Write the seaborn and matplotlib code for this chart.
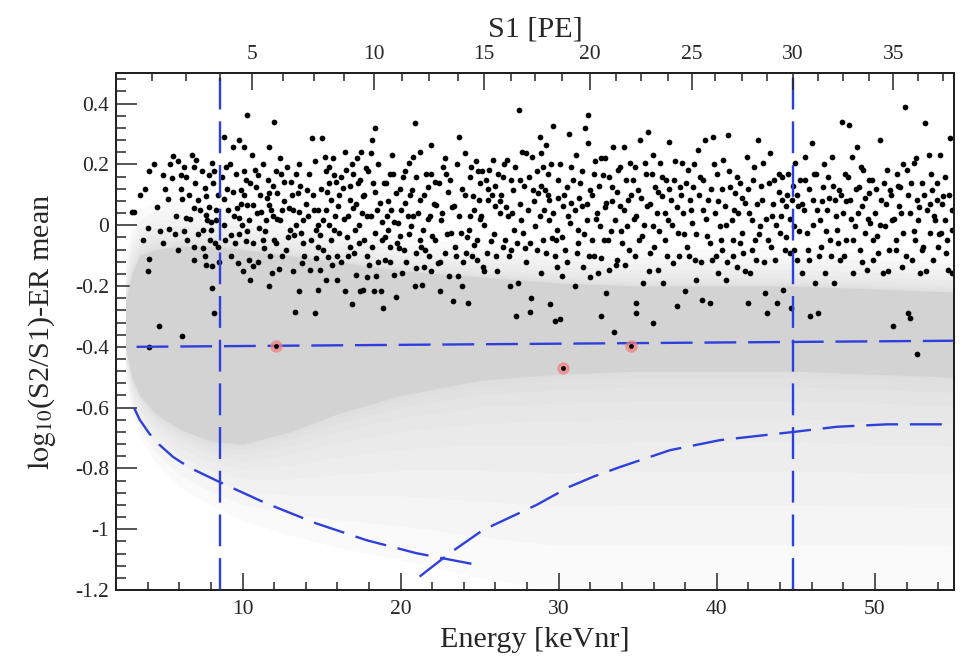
import numpy as np
import pandas as pd
import matplotlib
matplotlib.use('Agg')
import matplotlib.pyplot as plt
import seaborn as sns

# ER calibration events: (energy [keVnr], log10(S2/S1) - ER mean)
er_events = np.array([
    (3.0, 0.044), (3.16, 0.045), (3.86, 0.12), (4.0, -0.01), (4.1, 0.177), (4.1, -0.11), (4.0, -0.15),
    (4.7, -0.33), (6.2, -0.366), (4.1, -0.40),
    (4.95, 0.166), (5.27, 0.086), (5.37, -0.013), (5.6, 0.228), (5.55, 0.155), (5.7, -0.03), (5.9, 0.21),
    (6.1, 0.166), (6.18, 0.086), (6.3, -0.02), (6.4, 0.023), (6.4, 0.158),
    (6.8, 0.23), (6.96, 0.19), (7.06, 0.215), (6.9, 0.056), (6.96, -0.07), (6.96, -0.114), (7.17, 0.084),
    (7.5, -0.015), (7.53, -0.075), (7.65, 0.122), (7.7, 0.095), (7.7, 0.034), (7.74, 0.018), (7.7, -0.13),
    (7.86, 0.166), (8.0, 0.009), (8.0, -0.015), (8.1, 0.204), (8.1, -0.133), (8.16, 0.138), (8.1, -0.207),
    (8.2, -0.29), (8.25, -0.06), (8.22, 0.177),
    (8.43, 0.1), (8.33, 0.018), (8.43, -0.07), (8.8, 0.29), (8.8, 0.086), (8.86, 0.001), (8.96, 0.193),
    (9.07, 0.05), (9.28, -0.032), (9.38, 0.258), (9.38, 0.11), (9.5, -0.06), (9.64, 0.056), (9.7, -0.125),
    (9.8, 0.28), (9.8, 0.023), (9.9, 0.116), (9.97, 0.001), (10.1, 0.258), (10.1, 0.177), (10.2, 0.15),
    (10.2, -0.053), (10.27, 0.363), (10.3, 0.067), (10.4, -0.114), (10.44, 0.018), (10.48, -0.18),
    (10.65, 0.067), (10.65, -0.06), (10.65, -0.133), (10.8, 0.182), (10.86, 0.127), (10.97, 0.166),
    (11.03, -0.01), (11.18, 0.045), (11.28, -0.048), (11.39, -0.075), (11.5, 0.018), (11.6, 0.15),
    (11.7, 0.258), (11.7, 0.105), (11.7, 0.067), (11.75, -0.1), (11.8, 0.05), (11.87, -0.158), (11.9, 0.029),
    (12.0, 0.338), (12.1, 0.18), (12.1, -0.06), (12.2, 0.105), (12.3, -0.144), (12.34, 0.018), (12.44, 0.17),
    (12.5, 0.05),
    (12.65, 0.143), (12.76, -0.08), (12.97, 0.056), (13.0, -0.015), (13.07, 0.143), (13.18, 0.05),
    (13.28, -0.032), (13.35, -0.284), (13.4, 0.17), (13.5, 0.105), (13.6, -0.218), (13.6, 0.045),
    (13.7, -0.026), (13.77, -0.125), (13.8, 0.018), (13.9, -0.1), (14.07, 0.116), (14.13, 0.029),
    (14.24, -0.147), (14.4, 0.286), (14.5, 0.05), (14.6, -0.29), (14.66, -0.015), (14.66, -0.108),
    (14.77, 0.05), (14.77, -0.07), (14.8, -0.212), (14.87, -0.032), (14.9, -0.147), (15.04, 0.286),
    (15.1, 0.018), (15.2, 0.226), (15.25, -0.18), (15.3, 0.177), (15.33, 0.11), (15.4, -0.104), (15.5, 0.193),
    (15.5, 0.001), (15.6, 0.084), (15.67, -0.13), (15.76, -0.015), (15.8, 0.166), (15.9, 0.143), (15.97, -0.1),
    (16.03, 0.062), (16.13, -0.026), (16.24, 0.16), (16.35, 0.122), (16.45, -0.218), (16.55, 0.182),
    (16.66, -0.1), (16.77, 0.084), (16.7, 0.029), (16.77, -0.07), (16.94, -0.258),
    (17.0, 0.17), (17.0, 0.056), (17.1, -0.015), (17.15, -0.163), (17.23, 0.22), (17.3, 0.138), (17.36, -0.06),
    (17.4, -0.218), (17.5, 0.242), (17.57, 0.04), (17.6, 0.095), (17.65, -0.212), (17.7, -0.048), (17.8, 0.188),
    (17.86, -0.1), (17.9, 0.029), (18.0, -0.13), (18.1, 0.237), (18.2, 0.28), (18.24, 0.138), (18.3, -0.218),
    (18.35, -0.026), (18.4, 0.32), (18.45, -0.168), (18.5, 0.05), (18.67, 0.073), (18.77, -0.218),
    (18.84, -0.048),
    (18.9, -0.273), (18.98, -0.114), (19.1, 0.138), (19.13, 0.029), (19.2, -0.015), (19.3, 0.17), (19.34, -0.07),
    (19.4, 0.05), (19.47, 0.23), (19.55, -0.163), (19.68, -0.235), (19.72, 0.105), (19.83, 0.007),
    (19.9, -0.075), (19.93, -0.037), (20.1, -0.158), (20.14, 0.16), (20.25, 0.073), (20.35, -0.12),
    (20.46, 0.029), (20.56, 0.204), (20.67, -0.004), (20.73, 0.116), (20.77, 0.226), (20.88, 0.335),
    (20.88, -0.2), (20.95, -0.092),
    (21.1, 0.04), (21.2, 0.242), (21.24, 0.084), (21.3, -0.07), (21.37, -0.196), (21.4, -0.015), (21.5, -0.136),
    (21.6, 0.17), (21.7, 0.127), (21.8, -0.1), (21.83, 0.029), (21.93, 0.264), (22.0, -0.037), (22.15, 0.143),
    (22.25, 0.067), (22.36, -0.125), (22.47, -0.218), (22.57, 0.018), (22.67, 0.193), (22.78, -0.092),
    (22.9, 0.17), (23.0, 0.11), (23.05, -0.168),
    (23.2, -0.026), (23.3, -0.25), (23.4, 0.062), (23.5, -0.1), (23.6, -0.168), (23.7, 0.29), (23.8, -0.026),
    (23.9, -0.2), (24.05, 0.237), (24.15, -0.092), (24.26, -0.256), (24.3, -0.015), (24.36, 0.029),
    (24.47, 0.193), (24.57, 0.095), (24.67, -0.064), (24.8, -0.114), (24.9, 0.177), (24.95, 0.084),
    (25.04, 0.138), (25.1, 0.029), (25.2, -0.136),
    (25.3, -0.152), (25.4, 0.15), (25.5, 0.084), (25.6, 0.182), (25.7, -0.053), (25.85, 0.215), (25.95, 0.062),
    (26.05, -0.1), (26.15, 0.17), (26.26, 0.04), (26.37, 0.1), (26.47, 0.16), (26.58, -0.048), (26.7, 0.215),
    (26.8, 0.029), (26.9, -0.2), (27.0, -0.08), (27.1, 0.116), (27.2, -0.015), (27.3, -0.3), (27.4, -0.19),
    (27.5, 0.38), (27.57, 0.15), (27.63, 0.018), (27.7, 0.242), (27.74, -0.026), (27.85, -0.075),
    (27.95, 0.237), (28.05, 0.05), (28.16, -0.284), (28.27, -0.24), (28.33, 0.226), (28.37, 0.116),
    (28.5, -0.004),
    (28.8, 0.29), (28.9, 0.237), (29.0, 0.193), (29.2, 0.264), (29.3, 0.17), (28.7, 0.105), (28.8, 0.029),
    (29.0, -0.048), (28.9, -0.157), (29.1, 0.116), (29.4, 0.084), (29.4, 0.018), (29.55, -0.042),
    (29.65, 0.325), (29.45, -0.26), (29.76, -0.316), (29.76, -0.1), (29.87, -0.015), (29.87, -0.136),
    (29.97, 0.15), (30.1, -0.31), (30.18, -0.168), (30.3, 0.062), (30.4, -0.08), (30.5, 0.127), (30.67, 0.3),
    (30.7, 0.007),
    (30.8, 0.073), (30.9, 0.15), (31.0, -0.2), (31.1, 0.232), (31.13, -0.092), (31.24, -0.015), (31.35, 0.138),
    (31.45, 0.062), (31.55, -0.136), (31.66, 0.32), (31.76, 0.018), (31.87, 0.363), (31.87, 0.27),
    (31.93, -0.1), (31.98, 0.116), (32.08, -0.048), (32.2, 0.17), (32.3, 0.21), (32.4, 0.04), (32.5, -0.158),
    (32.6, -0.004), (32.7, -0.3), (32.7, -0.108), (32.8, 0.166),
    (32.9, 0.22), (33.0, -0.223), (33.0, 0.073), (33.1, -0.048), (33.2, -0.147), (33.35, 0.127), (33.45, 0.258),
    (33.5, -0.35), (33.55, 0.018), (33.66, -0.114), (33.77, 0.182), (33.87, 0.062), (33.98, -0.06),
    (34.1, 0.258), (34.2, -0.13), (34.3, -0.004), (34.4, 0.084), (34.5, 0.204), (34.7, 0.15), (34.8, -0.1),
    (34.9, -0.256), (34.9, -0.29), (34.9, 0.029),
    (35.0, 0.116), (35.15, 0.28), (35.25, -0.037), (35.35, -0.19), (35.45, 0.204), (35.56, 0.062),
    (35.67, 0.308), (35.77, -0.092), (35.88, 0.17), (35.94, -0.322), (35.98, -0.004), (36.1, 0.127),
    (36.2, 0.04), (36.3, -0.147), (36.4, 0.204), (36.5, 0.095), (36.6, -0.19), (36.7, -0.048), (36.8, 0.15),
    (36.93, 0.018), (37.0, 0.275),
    (37.1, 0.084), (37.25, -0.125), (37.35, 0.21), (37.46, -0.267), (37.57, -0.026), (37.67, 0.127),
    (37.78, 0.204), (37.88, 0.04), (37.99, -0.218), (38.1, -0.07), (38.2, 0.182), (38.3, 0.084), (38.4, 0.007),
    (38.5, 0.127), (38.6, -0.114), (38.7, -0.18), (38.8, 0.248), (38.94, 0.16), (39.04, -0.245), (39.1, 0.05),
    (39.25, 0.28), (39.36, -0.037), (39.46, 0.084), (39.57, -0.256), (39.67, -0.114), (39.78, 0.29),
    (39.9, 0.04), (40.0, 0.17), (40.1, -0.158), (40.2, -0.004), (40.3, -0.08), (40.4, 0.215), (40.5, 0.062),
    (40.6, -0.18), (40.7, 0.297), (40.85, 0.127), (40.95, 0.018), (41.05, -0.048), (41.15, 0.105),
    (41.26, -0.136),
    (41.36, 0.04), (41.47, 0.138), (41.57, -0.026), (41.68, -0.092), (41.8, 0.073), (41.9, 0.226),
    (42.0, -0.256), (42.1, -0.158), (42.2, 0.018), (42.3, 0.15), (42.4, -0.048), (42.5, -0.114), (42.63, 0.28),
    (42.73, -0.004), (42.84, 0.084), (42.95, 0.204), (43.05, -0.223), (43.15, -0.29), (43.26, -0.048),
    (43.37, 0.237),
    (43.5, 0.029), (43.6, 0.15), (43.7, -0.114), (43.8, -0.256), (43.9, 0.17), (44.0, -0.026), (44.1, 0.084),
    (44.2, -0.212), (44.3, -0.08), (44.4, 0.062), (44.5, 0.17), (44.6, -0.092), (44.68, -0.273),
    (44.74, 0.084), (44.85, -0.004), (44.95, 0.204), (45.05, -0.114), (45.16, 0.062), (45.27, 0.15),
    (45.37, -0.158), (45.5, 0.05),
    (45.6, 0.226), (45.7, -0.026), (45.8, -0.114), (45.9, -0.3), (46.0, 0.27), (46.1, 0.084), (46.2, -0.19),
    (46.3, 0.17), (46.4, -0.29), (46.5, 0.018), (46.6, -0.07), (46.7, 0.127), (46.85, -0.158), (46.95, 0.05),
    (47.06, 0.16), (47.17, -0.048), (47.27, 0.226), (47.4, -0.19), (47.5, 0.084), (47.6, -0.015),
    (47.7, 0.116), (47.8, -0.114), (47.9, 0.34), (48.0, 0.04), (48.1, 0.17), (48.2, -0.048), (48.33, 0.33),
    (48.43, 0.084), (48.54, 0.226), (48.64, -0.158), (48.75, -0.004), (48.85, 0.258), (48.96, 0.127),
    (49.06, -0.08), (49.17, 0.062), (49.27, 0.182), (49.38, -0.026), (49.5, -0.147), (49.6, 0.105),
    (49.7, 0.007),
    (49.8, 0.15), (49.9, -0.114), (50.0, 0.04), (50.1, -0.037), (50.3, 0.28), (50.4, 0.084), (50.5, -0.158),
    (50.65, -0.004), (50.75, 0.182), (50.86, -0.08), (50.96, 0.116), (51.07, 0.018), (51.17, -0.333),
    (51.3, -0.048), (51.4, 0.17), (51.5, 0.062), (51.6, 0.127), (51.7, -0.136), (51.8, -0.026),
    (51.9, 0.39), (52.0, 0.182), (52.1, -0.29), (52.2, -0.305), (52.23, 0.04), (52.33, -0.114), (52.44, 0.204),
    (52.55, -0.048), (52.65, 0.084), (52.67, -0.424), (52.75, 0.018), (52.86, -0.158), (52.97, 0.138),
    (53.07, -0.07), (53.17, 0.335), (53.28, 0.05), (53.4, 0.232), (53.5, -0.026), (53.6, 0.116),
    (53.7, -0.114), (53.8, 0.018), (53.9, 0.084), (54.0, -0.07), (54.1, 0.232), (54.2, -0.026), (54.3, 0.095),
    (54.4, 0.018), (54.5, -0.092), (54.6, -0.147), (54.75, 0.286), (54.86, -0.015), (54.86, -0.158),
])

# more ER events in the crowded core of the band
er_events_core = np.array([
    (3.5, 0.1), (3.7, -0.05),
    (4.4, 0.2), (4.6, 0.06), (4.8, -0.02), (5.0, -0.06), (5.1, 0.12), (5.4, 0.2), (5.8, 0.03), (5.9, -0.08),
    (6.1, 0.12), (6.3, 0.19), (6.5, -0.05), (6.6, 0.1), (6.7, 0.02), (7.0, 0.14), (7.2, -0.03), (7.3, 0.05),
    (7.45, 0.18), (7.6, -0.1), (7.9, 0.06), (7.95, -0.05),
    (8.3, 0.05), (8.5, -0.12), (8.7, 0.16), (8.9, -0.05), (9.0, 0.12), (9.2, 0.2), (9.3, -0.1), (9.45, 0.03),
    (9.6, 0.17), (9.75, -0.03), (9.9, 0.07), (10.0, -0.15),
    (10.1, 0.1), (10.3, -0.02), (10.5, 0.14), (10.6, 0.23), (10.9, 0.04), (11.0, -0.12), (11.1, 0.1),
    (11.3, 0.2), (11.4, -0.02), (11.55, 0.09), (11.65, -0.2), (11.9, 0.13), (12.0, -0.05),
    (12.2, 0.02), (12.35, 0.22), (12.5, -0.1), (12.6, 0.08), (12.8, 0.19), (12.9, -0.04), (13.1, 0.1),
    (13.2, -0.15), (13.4, 0.0), (13.55, 0.2), (13.65, 0.13), (13.85, -0.06), (14.0, 0.07),
    (14.2, 0.17), (14.35, -0.05), (14.45, 0.1), (14.6, 0.21), (14.8, 0.0), (14.95, 0.12), (15.1, -0.08),
    (15.3, 0.05), (15.45, 0.14), (15.6, -0.05), (15.75, 0.22), (15.85, 0.03), (15.95, -0.18),
    (16.1, 0.1), (16.2, -0.12), (16.4, 0.02), (16.5, 0.24), (16.6, -0.04), (16.8, 0.13), (16.9, 0.2),
    (17.05, -0.09), (17.2, 0.07), (17.35, 0.0), (17.45, 0.15), (17.7, 0.1), (17.85, -0.17), (17.95, 0.18),
    (18.1, 0.03), (18.2, -0.07), (18.4, 0.11), (18.55, -0.12), (18.6, 0.2), (18.8, 0.01), (18.95, 0.14),
    (19.0, -0.04), (19.2, 0.08), (19.35, -0.12), (19.5, 0.17), (19.6, 0.01), (19.8, -0.06), (19.95, 0.12),
    (20.05, 0.05), (20.2, -0.08), (20.3, 0.18), (20.5, -0.03), (20.6, 0.1), (20.8, 0.03), (20.95, -0.14),
    (21.0, 0.16), (21.2, -0.05), (21.45, 0.1), (21.55, -0.08), (21.7, 0.02), (21.9, 0.17), (21.95, -0.15),
    (22.1, 0.07), (22.2, -0.05), (22.4, 0.14), (22.5, -0.12), (22.6, 0.04), (22.8, 0.22), (22.95, -0.03),
    (23.1, 0.15), (23.25, 0.06), (23.45, -0.07), (23.55, 0.2), (23.7, 0.03), (23.85, 0.12), (23.95, -0.12),
    (24.1, 0.1), (24.2, -0.04), (24.4, 0.16), (24.5, -0.1), (24.65, 0.05), (24.75, 0.21), (24.85, -0.05),
    (25.0, 0.02), (25.15, 0.18), (25.3, 0.0), (25.45, -0.09), (25.55, 0.12), (25.8, 0.1), (25.9, -0.03),
    (26.0, 0.13), (26.1, -0.15), (26.3, 0.08), (26.45, -0.07), (26.55, 0.2), (26.65, 0.06), (26.85, -0.1),
    (26.95, 0.15), (27.05, 0.04), (27.25, 0.19), (27.35, -0.06), (27.55, 0.07), (27.8, 0.13), (27.9, -0.12),
    (28.1, 0.16), (28.2, -0.06), (28.45, 0.08), (28.6, 0.18), (28.65, -0.08), (28.85, 0.13), (29.05, 0.05),
    (29.2, -0.09), (29.3, 0.1), (29.5, 0.2), (29.65, 0.04), (29.8, -0.05), (29.95, 0.09),
    (30.05, 0.2), (30.2, -0.04), (30.35, 0.1), (30.55, -0.12), (30.6, 0.03), (30.8, 0.19), (31.0, 0.05),
    (31.2, -0.06), (31.3, 0.09), (31.5, 0.18), (31.6, -0.03), (31.8, 0.07), (31.95, -0.17),
    (32.1, 0.1), (32.25, -0.1), (32.35, 0.02), (32.55, 0.13), (32.65, 0.22), (32.85, -0.05), (32.95, 0.06),
    (33.15, 0.16), (33.3, -0.02), (33.4, 0.08), (33.6, -0.13), (33.7, 0.11), (33.9, 0.19), (33.95, -0.02),
    (34.15, 0.05), (34.25, 0.15), (34.45, -0.08), (34.55, 0.1), (34.75, 0.02), (34.85, 0.19), (35.05, -0.05),
    (35.2, 0.09), (35.4, 0.0), (35.5, 0.17), (35.7, -0.15), (35.8, 0.07), (35.95, 0.23),
    (36.05, -0.07), (36.25, 0.11), (36.35, -0.02), (36.55, 0.16), (36.7, 0.04), (36.85, -0.1), (36.95, 0.12),
    (37.15, 0.0), (37.3, 0.15), (37.45, 0.06), (37.6, -0.1), (37.75, 0.1), (37.95, -0.03),
    (38.05, 0.14), (38.25, -0.1), (38.35, 0.05), (38.55, 0.2), (38.65, -0.03), (38.85, 0.1), (39.0, -0.12),
    (39.15, 0.15), (39.3, 0.02), (39.55, -0.06), (39.65, 0.12), (39.85, 0.2), (39.95, -0.1),
    (40.05, 0.08), (40.25, -0.05), (40.35, 0.12), (40.55, 0.0), (40.65, -0.12), (40.8, 0.18), (41.0, -0.1),
    (41.1, 0.05), (41.3, 0.16), (41.45, -0.06), (41.6, 0.09), (41.75, -0.15), (41.95, 0.12),
    (42.05, 0.04), (42.25, -0.08), (42.35, 0.19), (42.55, 0.07), (42.65, -0.03), (42.8, 0.13), (43.0, -0.12),
    (43.1, 0.02), (43.3, 0.14), (43.45, -0.07), (43.55, 0.07), (43.75, 0.0), (43.95, 0.11),
    (44.05, 0.03), (44.15, 0.16), (44.35, -0.04), (44.45, 0.1), (44.65, 0.02), (44.8, 0.13), (44.9, -0.08),
    (45.1, 0.1), (45.2, -0.02), (45.4, 0.07), (45.55, 0.15), (45.75, -0.08), (45.85, 0.12),
    (46.05, 0.0), (46.15, 0.17), (46.35, 0.05), (46.45, -0.1), (46.65, 0.08), (46.75, 0.2), (46.9, -0.02),
    (47.1, 0.09), (47.2, -0.1), (47.35, 0.13), (47.55, 0.03), (47.65, -0.06), (47.85, 0.1),
    (48.05, -0.1), (48.15, 0.08), (48.3, 0.16), (48.5, 0.02), (48.6, -0.05), (48.8, 0.12), (48.9, 0.04),
    (49.1, 0.19), (49.2, -0.12), (49.35, 0.09), (49.55, 0.02), (49.65, 0.15), (49.85, -0.05),
    (50.05, 0.12), (50.2, -0.09), (50.35, 0.0), (50.55, 0.14), (50.7, 0.07), (50.8, -0.15), (51.0, 0.1),
    (51.2, 0.02), (51.35, -0.08), (51.45, 0.13), (51.65, 0.04), (51.75, 0.2), (51.95, -0.1),
    (52.1, 0.1), (52.3, 0.14), (52.5, -0.02), (52.6, 0.22), (52.8, 0.06), (52.95, -0.08), (53.1, 0.1),
    (53.25, -0.15), (53.45, 0.07), (53.55, 0.17), (53.75, 0.03), (53.95, 0.14), (54.05, -0.03), (54.25, 0.07),
    (54.45, 0.16), (54.55, -0.05), (54.7, 0.1), (54.9, 0.05),
])

# NR band (simulated): dense core and outer edge of the grey cloud
band_x = [2.6, 3.0, 3.5, 4.5, 6.0, 8.0, 10.0, 13.0, 16.0, 20.0, 25.0, 30.0, 35.0, 40.0, 45.0, 50.0, 55.0]
core_hi = [-0.25, -0.16, -0.10, -0.08, -0.07, -0.07, -0.08, -0.10, -0.12, -0.15, -0.17, -0.19, -0.20, -0.20, -0.20, -0.21, -0.22]
core_lo = [-0.40, -0.50, -0.56, -0.62, -0.67, -0.71, -0.72, -0.68, -0.62, -0.56, -0.51, -0.49, -0.48, -0.48, -0.48, -0.49, -0.50]
edge_hi = [-0.10, 0.0, 0.05, 0.08, 0.08, 0.07, 0.05, 0.02, -0.01, -0.04, -0.06, -0.07, -0.08, -0.08, -0.08, -0.09, -0.10]
edge_lo = [-0.50, -0.62, -0.70, -0.78, -0.86, -0.92, -0.97, -1.02, -1.06, -1.10, -1.16, -1.20, -1.20, -1.20, -1.20, -1.20, -1.20]

# events inside the NR acceptance region
cand_x = [12.13, 30.25, 34.6]
cand_y = [-0.398, -0.471, -0.397]

# NR acceptance / discrimination lines
cut_x = [3.3, 55.0]
cut_y = [-0.40, -0.38]
low_x = [3.16, 3.5, 4.1, 4.74, 5.6, 6.64, 8.59, 11.5, 14.67, 17.83, 21.0, 24.9]
low_y = [-0.603, -0.64, -0.685, -0.722, -0.762, -0.797, -0.846, -0.915, -0.981, -1.036, -1.079, -1.118]
rise_x = [21.2, 23.1, 25.2, 28.6, 30.7, 32.2, 33.9, 37.04, 40.2, 44.85, 47.6, 50.77, 55.0]
rise_y = [-1.156, -1.079, -1.003, -0.92, -0.86, -0.827, -0.795, -0.74, -0.707, -0.68, -0.663, -0.655, -0.655]
s1_window = [8.6, 44.8]

# S1 [PE] scale on top (energy position of each S1 tick)
s1_labels = ['5', '10', '15', '20', '25', '30', '35']
s1_major_e = [10.6, 18.3, 25.26, 31.98, 38.4, 44.8, 51.17]
s1_minor_e = [4.26, 6.43, 8.59, 12.56, 14.5, 16.4, 20.1, 21.8, 23.6, 26.95, 28.53, 30.2, 33.6, 35.2,
              36.9, 39.9, 41.6, 43.2, 46.4, 47.96, 49.6, 52.75, 54.3]

sns.set_theme(style='ticks')
plt.rcParams['font.family'] = ['Liberation Serif', 'DejaVu Serif']
plt.rcParams['mathtext.fontset'] = 'stix'

blue = '#2f3fdc'
dash = (0, (13.5, 5))

fig = plt.figure(figsize=(9.71, 6.57), dpi=100)
ax = fig.add_axes([0.1195, 0.102, 0.863, 0.7865])

# grey NR cloud: soft fade from the dense core out to the edge
c_hi, c_lo = np.array(core_hi), np.array(core_lo)
e_hi, e_lo = np.array(edge_hi), np.array(edge_lo)
for k in range(1, 11):
    t = (k / 10) ** 2.2
    ax.fill_between(band_x, c_hi + t * (e_hi - c_hi), c_lo + t * (e_lo - c_lo),
                    color='#d0d0d0', alpha=0.10, lw=0, zorder=0)
ax.fill_between(band_x, core_hi, core_lo, color='#d3d3d3', lw=0, zorder=1)

df = pd.DataFrame(np.vstack([er_events, er_events_core]), columns=['energy', 'ratio'])
sns.scatterplot(data=df, x='energy', y='ratio', color='black', s=17, linewidth=0, ax=ax, zorder=3)

for xs, ys in [(cut_x, cut_y), (low_x, low_y), (rise_x, rise_y)]:
    sns.lineplot(x=xs, y=ys, sort=False, estimator=None, color=blue, lw=1.7, linestyle=dash, ax=ax, zorder=4)
for xv in s1_window:
    ax.axvline(xv, color=blue, lw=1.7, linestyle=dash, zorder=4)

sns.scatterplot(x=cand_x, y=cand_y, color='#ee8080', alpha=0.75, s=80, linewidth=0, ax=ax, zorder=5)
sns.scatterplot(x=cand_x, y=cand_y, color='black', s=12, linewidth=0, ax=ax, zorder=6)

ax.set_xlim(2, 55)
ax.set_ylim(-1.2, 0.5)
ax.set_xticks([10, 20, 30, 40, 50])
ax.set_xticks(np.arange(2, 55.1, 2), minor=True)
ax.set_yticks([-1.2, -1, -0.8, -0.6, -0.4, -0.2, 0, 0.2, 0.4])
ax.set_yticklabels(['-1.2', '-1', '-0.8', '-0.6', '-0.4', '-0.2', '0', '0.2', '0.4'])
ax.set_yticks(np.arange(-1.2, 0.5, 0.04), minor=True)
ax.tick_params(axis='x', which='major', direction='in', length=12, width=1.1, labelsize=15.5, pad=7, top=False)
ax.tick_params(axis='x', which='minor', direction='in', length=6, width=1.1, top=False)
ax.tick_params(axis='y', which='major', direction='in', length=15, width=1.1, labelsize=15.5, pad=5, right=False)
ax.tick_params(axis='y', which='minor', direction='in', length=7, width=1.1, right=False)
ax.set_xlabel('Energy [keVnr]', fontsize=21.7, labelpad=6)
ax.set_ylabel(r'$\mathrm{log}_{10}$(S2/S1)-ER mean', fontsize=21.7, labelpad=12)
for sp in ax.spines.values():
    sp.set_linewidth(1.4)
    sp.set_color('black')

ax2 = ax.twiny()
ax2.set_xlim(ax.get_xlim())
ax2.set_xticks(s1_major_e)
ax2.set_xticklabels(s1_labels)
ax2.set_xticks(s1_minor_e, minor=True)
ax2.tick_params(axis='x', which='major', direction='in', length=12, width=1.1, labelsize=15.5, pad=7)
ax2.tick_params(axis='x', which='minor', direction='in', length=6, width=1.1)
ax2.set_xlabel('S1 [PE]', fontsize=21.7, labelpad=6)

fig.savefig('out.png', dpi=100)
